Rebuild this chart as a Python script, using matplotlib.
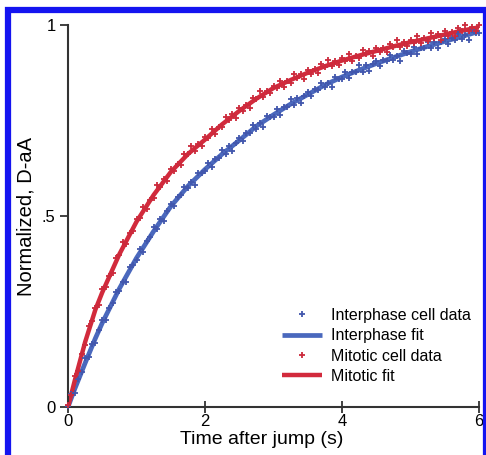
import numpy as np
import matplotlib
matplotlib.use('Agg')
import matplotlib.pyplot as plt
from matplotlib.patches import Rectangle

plt.rcParams['font.family'] = ['Liberation Sans', 'DejaVu Sans']

# sample times of the measured traces (s)
sample_t = np.linspace(0, 6, 121)

interphase_data = [
    0.003, 0.033, 0.037, 0.073, 0.091, 0.127, 0.130, 0.164, 0.167, 0.201,
    0.227, 0.229, 0.260, 0.271, 0.302, 0.304, 0.328, 0.328, 0.366, 0.373,
    0.385, 0.413, 0.407, 0.435, 0.444, 0.472, 0.466, 0.492, 0.486, 0.513,
    0.532, 0.527, 0.550, 0.554, 0.577, 0.572, 0.589, 0.582, 0.612, 0.612,
    0.617, 0.639, 0.627, 0.649, 0.652, 0.674, 0.662, 0.682, 0.671, 0.692,
    0.705, 0.696, 0.717, 0.717, 0.738, 0.729, 0.743, 0.733, 0.761, 0.758,
    0.760, 0.780, 0.765, 0.785, 0.785, 0.805, 0.791, 0.809, 0.795, 0.814,
    0.825, 0.814, 0.832, 0.830, 0.848, 0.837, 0.849, 0.837, 0.864, 0.859,
    0.859, 0.877, 0.860, 0.878, 0.876, 0.894, 0.878, 0.895, 0.879, 0.897,
    0.906, 0.893, 0.909, 0.906, 0.922, 0.909, 0.920, 0.907, 0.932, 0.926,
    0.925, 0.942, 0.925, 0.941, 0.939, 0.956, 0.940, 0.955, 0.939, 0.955,
    0.964, 0.951, 0.966, 0.962, 0.977, 0.964, 0.975, 0.961, 0.986, 0.979,
    0.978,
]

mitotic_data = [
    0.004, 0.032, 0.081, 0.094, 0.139, 0.163, 0.211, 0.225, 0.260, 0.266,
    0.308, 0.315, 0.343, 0.350, 0.389, 0.399, 0.431, 0.428, 0.455, 0.460,
    0.491, 0.495, 0.524, 0.518, 0.543, 0.548, 0.580, 0.577, 0.596, 0.591,
    0.623, 0.619, 0.637, 0.633, 0.662, 0.661, 0.684, 0.671, 0.689, 0.684,
    0.706, 0.704, 0.727, 0.715, 0.734, 0.733, 0.760, 0.752, 0.766, 0.756,
    0.783, 0.776, 0.791, 0.784, 0.810, 0.806, 0.827, 0.812, 0.828, 0.821,
    0.841, 0.835, 0.854, 0.839, 0.854, 0.849, 0.873, 0.862, 0.872, 0.859,
    0.883, 0.873, 0.885, 0.875, 0.898, 0.891, 0.909, 0.892, 0.905, 0.896,
    0.913, 0.906, 0.923, 0.906, 0.919, 0.913, 0.935, 0.923, 0.932, 0.918,
    0.940, 0.929, 0.940, 0.929, 0.951, 0.943, 0.960, 0.942, 0.955, 0.945,
    0.961, 0.953, 0.970, 0.952, 0.965, 0.958, 0.980, 0.967, 0.976, 0.961,
    0.983, 0.972, 0.982, 0.971, 0.992, 0.984, 1.001, 0.983, 0.994, 0.984,
    1.000,
]

# fitted curves
fit_t = [0, 0.1, 0.25, 0.4, 0.5, 0.75, 1.0, 1.25, 1.5, 1.75, 2.0, 2.25, 2.5,
         2.75, 3.0, 3.25, 3.5, 3.75, 4.0, 4.25, 4.5, 4.75, 5.0, 5.25, 5.5,
         5.75, 6.0]
interphase_fit = [0, 0.048, 0.115, 0.18, 0.22, 0.31, 0.39, 0.46, 0.525, 0.578,
                  0.622, 0.662, 0.698, 0.735, 0.765, 0.793, 0.818, 0.843,
                  0.864, 0.882, 0.899, 0.915, 0.93, 0.944, 0.957, 0.97, 0.983]
mitotic_fit = [0, 0.07, 0.17, 0.255, 0.30, 0.40, 0.485, 0.555, 0.615, 0.662,
               0.70, 0.74, 0.775, 0.807, 0.835, 0.856, 0.875, 0.892, 0.907,
               0.92, 0.932, 0.944, 0.955, 0.965, 0.975, 0.985, 0.994]

blue_fit = '#4a68bd'
red_fit = '#d22a3c'
blue_pts = '#4257ad'
red_pts = '#cc2a3c'

fig = plt.figure(figsize=(4.86, 4.55), dpi=100)
ax = fig.add_axes([68 / 486, 1 - 407 / 455, 411 / 486, 382 / 455])

ax.plot(fit_t, interphase_fit, color=blue_fit, lw=3.4, label='Interphase fit',
        solid_capstyle='butt', zorder=2)
ax.plot(fit_t, mitotic_fit, color=red_fit, lw=3.2, label='Mitotic fit',
        solid_capstyle='butt', zorder=2)
ax.plot(sample_t, interphase_data, ls='none', marker='+', ms=5, mew=1.3,
        color=blue_pts, label='Interphase cell data', clip_on=False, zorder=3)
ax.plot(sample_t, mitotic_data, ls='none', marker='+', ms=5, mew=1.3,
        color=red_pts, label='Mitotic cell data', clip_on=False, zorder=3)

ax.set_xlim(0, 6)
ax.set_ylim(0, 1)
ax.set_xticks([0, 2, 4, 6])
ax.set_yticks([0, 0.5, 1])
ax.set_yticklabels(['0', '.5', '1'])

for side in ['top', 'right']:
    ax.spines[side].set_visible(False)
for side in ['left', 'bottom']:
    ax.spines[side].set_linewidth(1.5)
    ax.spines[side].set_color('#333333')

ax.tick_params(axis='x', direction='inout', length=8, width=1.3, color='#333333',
               labelsize=12, pad=1)
ax.tick_params(axis='y', direction='out', length=6, width=1.3, color='#333333',
               labelsize=12, pad=3)

ax.set_xlabel('Time after jump (s)', fontsize=14)
ax.set_ylabel('Normalized, D-aA', fontsize=14.5)
ax.xaxis.set_label_coords(0.472, -0.062)
ax.yaxis.set_label_coords(-0.078, 0.5)

handles, labels = ax.get_legend_handles_labels()
order = [labels.index(n) for n in ['Interphase cell data', 'Interphase fit',
                                   'Mitotic cell data', 'Mitotic fit']]
leg = fig.legend([handles[i] for i in order], [labels[i] for i in order],
                 loc='upper left', bbox_to_anchor=(282 / 486, 1 - 308 / 455),
                 frameon=False, fontsize=11.5, handlelength=2.5,
                 handletextpad=0.55, labelspacing=0.33, borderpad=0,
                 borderaxespad=0, markerscale=1.0)

# blue frame around the figure
fig.patches.append(Rectangle((8 / 486, -0.2), 478 / 486, 1.2 - 10 / 455,
                             transform=fig.transFigure, fill=False,
                             edgecolor='#1414f0', lw=4.5, zorder=10))

fig.savefig('out.png', dpi=100)
